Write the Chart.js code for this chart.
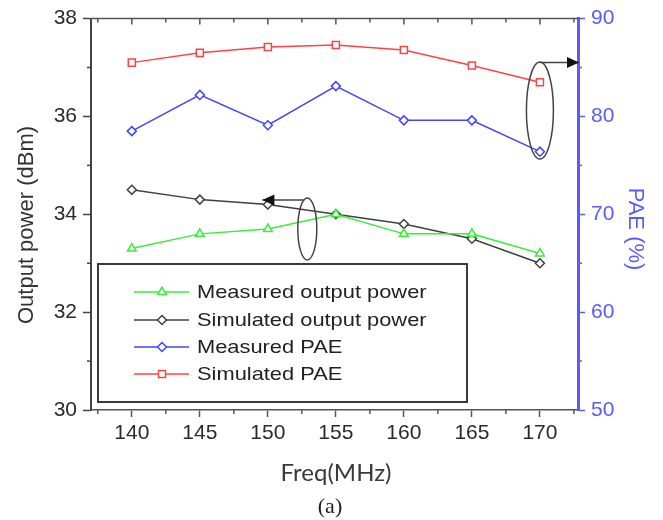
<!DOCTYPE html>
<html>
<head>
<meta charset="utf-8">
<script src="https://cdn.jsdelivr.net/npm/chart.js@4/dist/chart.umd.min.js"></script>
<style>
  html, body { margin: 0; padding: 0; background: #fff; }
  #wrap { width: 663px; height: 520px; position: relative; }
</style>
</head>
<body>
<div id="wrap"><canvas id="chart"></canvas></div>
<script>
// Output power / PAE vs frequency.
const freq = [140, 145, 150, 155, 160, 165, 170];
const measuredPower = [33.3, 33.6, 33.7, 34.0, 33.6, 33.6, 33.2];
const simulatedPower = [34.5, 34.3, 34.2, 34.0, 33.8, 33.5, 33.0];
const measuredPAE = [78.5, 82.2, 79.1, 83.1, 79.6, 79.6, 76.4];
const simulatedPAE = [85.5, 86.5, 87.1, 87.3, 86.8, 85.2, 83.5];

const xTicks = [140, 145, 150, 155, 160, 165, 170];
const powerTicks = [30, 32, 34, 36, 38];
const paeTicks = [50, 60, 70, 80, 90];

const COL = { green: '#38ee38', black: '#404040', blue: '#4343ff', red: '#ff4343', axis: '#444', paeAxis: '#5a5aff' };
const SANS = '"Liberation Sans", Arial, sans-serif';

const pts = ys => freq.map((f, i) => ({ x: f, y: ys[i] }));

function series(label, ys, color, style, radius, axis) {
  return {
    label, data: pts(ys), yAxisID: axis,
    borderColor: color, borderWidth: 1.5,
    pointStyle: style, pointRadius: radius, pointBorderWidth: 1.5,
    pointBorderColor: color, pointBackgroundColor: '#fff'
  };
}

const datasets = [
  series('Measured output power', measuredPower, COL.green, 'triangle', 5, 'y'),
  series('Simulated output power', simulatedPower, COL.black, 'rectRot', 4.5, 'y'),
  series('Measured PAE', measuredPAE, COL.blue, 'rectRot', 4.5, 'y1'),
  series('Simulated PAE', simulatedPAE, COL.red, 'rect', 5, 'y1')
];

function fixTicks(list) {
  return scale => { scale.ticks = list.map(v => ({ value: v })); };
}

// frame, minor ticks, titles, ellipse callouts and the boxed legend
const decor = {
  id: 'decor',
  afterDatasetsDraw(chart) {
    const { ctx, chartArea: a, scales } = chart;
    const x = scales.x, y = scales.y, y1 = scales.y1;
    ctx.save();

    // top frame line with inward ticks
    ctx.strokeStyle = '#555'; ctx.lineWidth = 1.5;
    ctx.beginPath(); ctx.moveTo(a.left, a.top); ctx.lineTo(a.right, a.top); ctx.stroke();
    for (let v = 137.5; v < 173; v += 2.5) {
      const px = x.getPixelForValue(v), major = v % 5 === 0;
      ctx.beginPath();
      ctx.moveTo(px, a.top); ctx.lineTo(px, a.top + (major ? 6 : 4));
      ctx.moveTo(px, a.bottom); ctx.lineTo(px, a.bottom + (major ? 0 : 4));
      ctx.stroke();
    }
    // minor ticks on the value axes
    ctx.strokeStyle = COL.axis;
    [31, 33, 35, 37].forEach(v => {
      const py = y.getPixelForValue(v);
      ctx.beginPath(); ctx.moveTo(a.left, py); ctx.lineTo(a.left - 4, py); ctx.stroke();
    });
    ctx.strokeStyle = COL.paeAxis;
    [55, 65, 75, 85].forEach(v => {
      const py = y1.getPixelForValue(v);
      ctx.beginPath(); ctx.moveTo(a.right, py); ctx.lineTo(a.right + 4, py); ctx.stroke();
    });

    // axis titles
    ctx.fillStyle = '#333'; ctx.textAlign = 'center'; ctx.textBaseline = 'middle';
    ctx.save(); ctx.translate(27, 225); ctx.rotate(-Math.PI / 2);
    ctx.font = '22px ' + SANS; ctx.fillText('Output power (dBm)', 0, 0); ctx.restore();
    ctx.save(); ctx.translate(635, 229); ctx.rotate(Math.PI / 2);
    ctx.fillStyle = COL.paeAxis; ctx.font = '22px ' + SANS; ctx.fillText('PAE (%)', 0, 0); ctx.restore();
    ctx.fillStyle = '#3a3a3a'; ctx.font = '24px Lato, "Open Sans", sans-serif';
    ctx.fillText('Freq(MHz)', 336, 473);
    ctx.fillStyle = '#222'; ctx.font = '22px "Liberation Serif", "DejaVu Serif", serif';
    ctx.fillText('(a)', 330, 507);

    // callout ellipses + arrows
    ctx.strokeStyle = '#444'; ctx.fillStyle = '#111'; ctx.lineWidth = 1.5;
    function arrow(x0, yy0, x1, yy1) {
      ctx.beginPath(); ctx.moveTo(x0, yy0); ctx.lineTo(x1, yy1); ctx.stroke();
      const ang = Math.atan2(yy1 - yy0, x1 - x0);
      ctx.beginPath();
      ctx.moveTo(x1, yy1);
      ctx.lineTo(x1 - 12 * Math.cos(ang) + 5.5 * Math.sin(ang), yy1 - 12 * Math.sin(ang) - 5.5 * Math.cos(ang));
      ctx.lineTo(x1 - 12 * Math.cos(ang) - 5.5 * Math.sin(ang), yy1 - 12 * Math.sin(ang) + 5.5 * Math.cos(ang));
      ctx.closePath(); ctx.fill();
    }
    const e1x = x.getPixelForValue(170), e1y = y1.getPixelForValue(80.6);
    ctx.beginPath(); ctx.ellipse(e1x, e1y, 13.5, 48.5, 0, 0, Math.PI * 2); ctx.stroke();
    arrow(e1x, e1y - 48, a.right + 1, e1y - 48);
    const e2x = x.getPixelForValue(152.9), e2y = y.getPixelForValue(33.7);
    ctx.beginPath(); ctx.ellipse(e2x, e2y, 9.5, 31, 0, 0, Math.PI * 2); ctx.stroke();
    arrow(e2x - 3, e2y - 29, x.getPixelForValue(149.6), e2y - 29);

    // legend box
    const L = 98, T = 264, R = 467, B = 402;
    ctx.fillStyle = '#fff'; ctx.fillRect(L, T, R - L, B - T);
    ctx.strokeStyle = '#3a3a3a'; ctx.lineWidth = 2; ctx.strokeRect(L, T, R - L, B - T);
    const rows = [292, 320, 347, 374];
    chart.data.datasets.forEach((ds, i) => {
      const ry = rows[i];
      ctx.strokeStyle = ds.borderColor; ctx.lineWidth = 1.5;
      ctx.beginPath(); ctx.moveTo(134, ry); ctx.lineTo(189, ry); ctx.stroke();
      ctx.fillStyle = '#fff';
      Chart.helpers.drawPoint(ctx, { pointStyle: ds.pointStyle, radius: ds.pointRadius, rotation: 0, borderWidth: 1.5 }, 162, ry);
      ctx.save(); ctx.translate(197, ry + 1); ctx.scale(1.15, 1);
      ctx.fillStyle = '#222'; ctx.font = '19px ' + SANS; ctx.textAlign = 'left'; ctx.textBaseline = 'middle';
      ctx.fillText(ds.label, 0, 0); ctx.restore();
    });
    ctx.restore();
  }
};

new Chart(document.getElementById('chart'), {
  type: 'line',
  data: { datasets },
  plugins: [decor],
  options: {
    responsive: true, maintainAspectRatio: false, animation: false,
    layout: { padding: { top: 18, left: 0, right: 0, bottom: 0 } },
    plugins: { legend: { display: false }, tooltip: { enabled: false } },
    scales: {
      x: {
        type: 'linear', min: 137, max: 172.8,
        afterBuildTicks: fixTicks(xTicks),
        afterFit: s => { s.height = 110; },
        grid: { drawOnChartArea: false, tickLength: 7, color: '#555', tickWidth: 1.5 },
        border: { color: '#555', width: 1.5 },
        ticks: { padding: 4, color: '#2a2a2a', font: { family: SANS, size: 21 }, maxRotation: 0 }
      },
      y: {
        position: 'left', min: 30, max: 38,
        afterBuildTicks: fixTicks(powerTicks),
        afterFit: s => { s.width = 91; },
        grid: { drawOnChartArea: false, tickLength: 8, color: COL.axis, tickWidth: 1.5 },
        border: { color: COL.axis, width: 2 },
        ticks: { padding: 6, color: '#2a2a2a', font: { family: SANS, size: 21 } }
      },
      y1: {
        position: 'right', min: 50, max: 90,
        afterBuildTicks: fixTicks(paeTicks),
        afterFit: s => { s.width = 85; },
        grid: { drawOnChartArea: false, tickLength: 7, color: COL.paeAxis, tickWidth: 1.5 },
        border: { color: COL.paeAxis, width: 3 },
        ticks: { padding: 6, color: COL.paeAxis, font: { family: SANS, size: 21 } }
      }
    }
  }
});
</script>
</body>
</html>
